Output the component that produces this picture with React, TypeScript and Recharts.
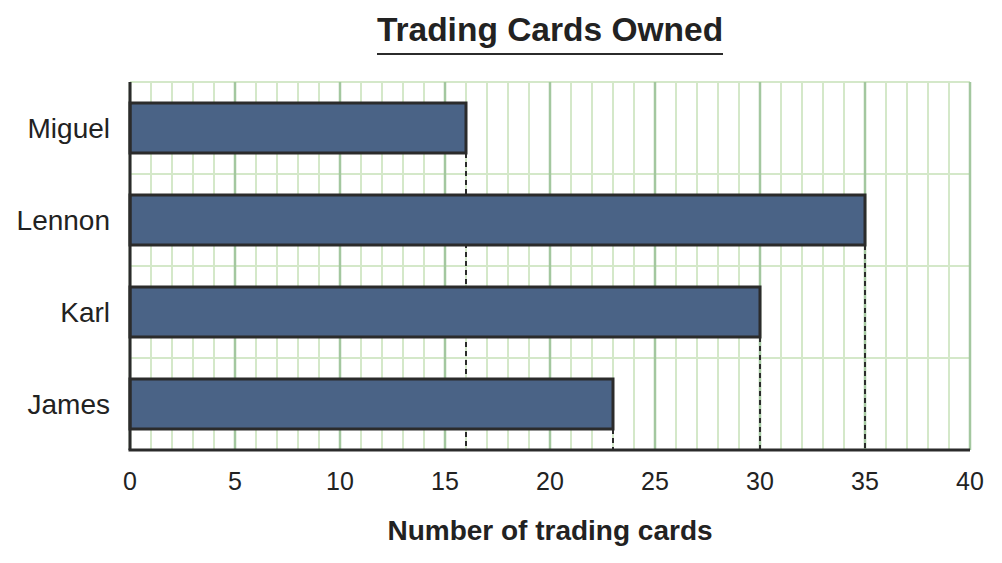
import { BarChart, Bar, XAxis, YAxis, ReferenceLine, CartesianGrid } from 'recharts';

const NAMES = ['Miguel', 'Lennon', 'Karl', 'James'];
const CARDS = [16, 35, 30, 23];
const X_MAX = 40;
const X_TICKS = [0, 5, 10, 15, 20, 25, 30, 35, 40];
const MINOR_LINES = Array.from({ length: X_MAX + 1 }, (_, i) => i);

const data = NAMES.map((name, i) => ({ name, cards: CARDS[i] }));

const CHART_W = 1002;
const CHART_H = 563;
const MARGIN = { top: 82, right: 32, bottom: 73, left: 0 };
const X_AXIS_H = 40;
const PLOT_BOTTOM = CHART_H - MARGIN.bottom - X_AXIS_H;

const INK = '#2b2b2b';
const FONT = '"Liberation Sans", Arial, sans-serif';

function BarWithDrop(props: any) {
  const { x, y, width, height, fill } = props;
  const end = x + width;
  return (
    <g>
      <line
        x1={end}
        x2={end}
        y1={y + height}
        y2={PLOT_BOTTOM}
        stroke={INK}
        strokeWidth={2}
        strokeDasharray="5 4"
      />
      <rect x={x} y={y} width={width} height={height} fill={fill} stroke={INK} strokeWidth={3} />
    </g>
  );
}

// x positions of grid values through the x axis scale
const xLines = (values: number[]) => ({ xAxis, offset }: any) =>
  values.map((v) =>
    xAxis && typeof xAxis.scale === 'function'
      ? xAxis.scale(v)
      : offset.left + (v / X_MAX) * offset.width
  );

// band boundaries: equal split of the plot height between the categories
const bandEdges = ({ offset }: any) =>
  Array.from({ length: NAMES.length + 1 }, (_, i) => offset.top + (i * offset.height) / NAMES.length);

export default function App() {
  return (
    <div style={{ position: 'absolute', left: 0, top: 0, width: CHART_W, height: CHART_H, background: '#fff', fontFamily: FONT }}>
      <div
        style={{
          position: 'absolute',
          left: 130,
          width: 840,
          top: 10,
          textAlign: 'center',
          fontSize: 33.5,
          fontWeight: 'bold',
          color: '#222',
        }}
      >
        <span style={{ display: 'inline-block', borderBottom: `2.5px solid ${INK}`, paddingBottom: 3, lineHeight: '40px' }}>
          Trading Cards Owned
        </span>
      </div>
      <BarChart
        width={CHART_W}
        height={CHART_H}
        data={data}
        layout="vertical"
        margin={MARGIN}
        barSize={50}
      >
        <CartesianGrid
          vertical={false}
          horizontalCoordinatesGenerator={bandEdges}
          stroke="#d4e8c9"
          strokeWidth={2}
        />
        <CartesianGrid
          horizontal={false}
          verticalCoordinatesGenerator={xLines(MINOR_LINES.filter((v) => v % 5 !== 0))}
          stroke="#d4e8c9"
          strokeWidth={2}
        />
        <CartesianGrid
          horizontal={false}
          verticalCoordinatesGenerator={xLines(X_TICKS)}
          stroke="#a3c79f"
          strokeWidth={2.5}
        />
        <XAxis
          type="number"
          domain={[0, X_MAX]}
          ticks={X_TICKS}
          interval={0}
          height={X_AXIS_H}
          tickLine={false}
          tickSize={0}
          tickMargin={22}
          axisLine={false}
          tick={{ fill: '#222', fontSize: 25, fontFamily: FONT }}
          label={{
            value: 'Number of trading cards',
            position: 'insideBottom',
            offset: -50,
            fill: '#222',
            fontSize: 28,
            fontWeight: 'bold',
            fontFamily: FONT,
          }}
        />
        <YAxis
          type="category"
          dataKey="name"
          width={130}
          tickLine={false}
          tickSize={0}
          tickMargin={20}
          axisLine={false}
          tick={{ fill: '#222', fontSize: 28, fontFamily: FONT }}
        />
        <Bar dataKey="cards" fill="#4a6386" shape={BarWithDrop} isAnimationActive={false} />
        <ReferenceLine x={0} stroke={INK} strokeWidth={3} />
      </BarChart>
      <svg style={{ position: 'absolute', left: 0, top: 0, pointerEvents: 'none' }} width={CHART_W} height={CHART_H}>
        <line x1={128.5} x2={CHART_W - MARGIN.right} y1={PLOT_BOTTOM} y2={PLOT_BOTTOM} stroke={INK} strokeWidth={3} />
      </svg>
    </div>
  );
}
